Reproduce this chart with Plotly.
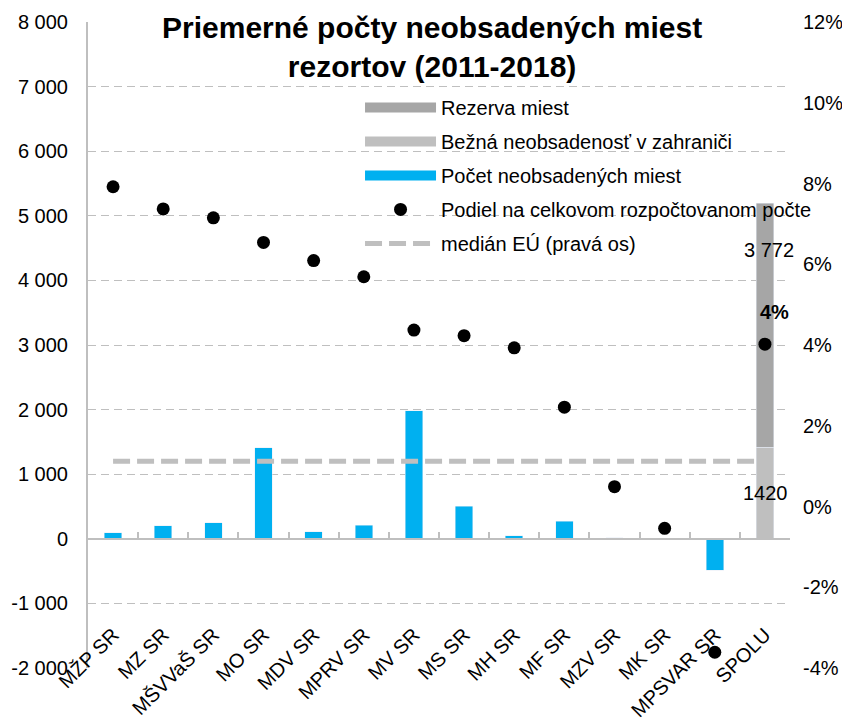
import plotly.graph_objects as go

# ---------------- data ----------------
categories = ["MŽP SR", "MZ SR", "MŠVVaŠ SR", "MO SR", "MDV SR", "MPRV SR", "MV SR",
              "MS SR", "MH SR", "MF SR", "MZV SR", "MK SR", "MPSVAR SR", "SPOLU"]
pocet_neobsadenych = [90, 205, 248, 1412, 108, 206, 1981, 505, 51, 272, 20, 10, -486, None]
podiel_pct = [7.92, 7.37, 7.15, 6.54, 6.09, 5.69, 4.37, 4.23, 3.93, 2.46, 0.49, -0.54, -3.61, 4.02]
median_eu_pct = [1.12] * len(categories)
spolu_category = ["SPOLU"]
bezna_neobsadenost = [1420]
rezerva_miest = [3772]
podiel_spolu_label = "4%"

left_tick_vals = [-2000, -1000, 0, 1000, 2000, 3000, 4000, 5000, 6000, 7000, 8000]
left_tick_text = ["-2 000", "-1 000", "0", "1 000", "2 000", "3 000", "4 000", "5 000",
                  "6 000", "7 000", "8 000"]
right_tick_vals = [-4, -2, 0, 2, 4, 6, 8, 10, 12]
right_tick_text = ["-4%", "-2%", "0%", "2%", "4%", "6%", "8%", "10%", "12%"]

legend_names = ["Rezerva miest", "Bežná neobsadenosť v zahraniči", "Počet neobsadených miest",
                "Podiel na celkovom rozpočtovanom počte", "medián EÚ (pravá os)"]
title_text = "Priemerné počty neobsadených miest<br>rezortov (2011-2018)"

# ---------------- style ----------------
FONT = "Liberation Sans Narrow, Arial Narrow, Liberation Sans, Arial, sans-serif"
BLUE = "#00B0F0"
DARK_GRAY = "#A6A6A6"
LIGHT_GRAY = "#BFBFBF"
GRID = "#BFBFBF"

fig = go.Figure()

# legend-only swatches (wide rectangles like the original)
for rank, (name, col) in enumerate(zip(legend_names[:3], [DARK_GRAY, LIGHT_GRAY, BLUE]), start=1):
    fig.add_trace(go.Scatter(x=[None], y=[None], mode="lines", name=name,
                             line=dict(color=col, width=13), legendrank=rank,
                             legendgroup=name, xaxis="x", yaxis="y", hoverinfo="skip"))

# blue bars (left axis)
fig.add_trace(go.Bar(x=categories, y=pocet_neobsadenych, marker_color=BLUE,
                     showlegend=False, xaxis="x", yaxis="y"))

# median line (right axis), drawn above blue bars
fig.add_trace(go.Scatter(x=categories, y=median_eu_pct, mode="lines", name=legend_names[4],
                         line=dict(color=LIGHT_GRAY, width=5, dash="17px,7px"),
                         legendrank=5, legendgroup=legend_names[4], xaxis="x", yaxis="y2"))

# stacked gray bars for SPOLU (left scale, drawn above median line)
fig.add_trace(go.Bar(x=spolu_category, y=bezna_neobsadenost, marker_color=LIGHT_GRAY,
                     showlegend=False, xaxis="x", yaxis="y3"))
fig.add_trace(go.Bar(x=spolu_category, y=rezerva_miest, marker_color=DARK_GRAY,
                     showlegend=False, xaxis="x", yaxis="y3"))

# dots (right scale) on top
fig.add_trace(go.Scatter(x=categories, y=podiel_pct, mode="markers", name=legend_names[3],
                         marker=dict(color="black", size=13), legendrank=4,
                         legendgroup=legend_names[3], xaxis="x2", yaxis="y4"))

n = len(categories)
cat_range = [-0.5, n - 0.5]
tick_font = dict(family=FONT, size=20, color="black")

fig.update_layout(
    width=842, height=714,
    margin=dict(l=80, r=60, t=14, b=54, autoexpand=False),
    paper_bgcolor="white", plot_bgcolor="white",
    font=dict(family=FONT, size=20, color="black"),
    barmode="stack", bargap=0.65,
    showlegend=True,
    legend=dict(x=0.3875, xref="paper", xanchor="left", y=0.898, yanchor="top",
                bgcolor="rgba(0,0,0,0)", font=dict(family=FONT, size=20, color="black"),
                itemwidth=71, traceorder="grouped", tracegroupgap=5, itemclick=False),
    xaxis=dict(type="category", categoryorder="array", categoryarray=categories,
               range=cat_range, anchor="free", position=0.077, automargin=False,
               showline=False, ticks="", showgrid=False, zeroline=False,
               tickangle=-45, tickfont=tick_font),
    xaxis2=dict(type="category", categoryorder="array", categoryarray=categories,
                range=cat_range, overlaying="x", anchor="free", position=0.2, automargin=False,
                showline=True, linecolor=GRID, linewidth=2,
                ticks="inside", tickson="boundaries", ticklen=6, tickwidth=2, tickcolor=GRID,
                showticklabels=False, showgrid=False, zeroline=False),
    yaxis=dict(range=[-2000, 8000], side="left", tickvals=left_tick_vals, ticktext=left_tick_text,
               showgrid=True, gridcolor=GRID, gridwidth=1, griddash="8px,5px", automargin=False,
               zeroline=False, showline=True, linecolor=GRID, linewidth=2, ticks="",
               ticklabelstandoff=14, tickfont=tick_font),
    yaxis2=dict(range=[-4, 12], side="right", overlaying="y", anchor="x", automargin=False,
                tickvals=right_tick_vals, ticktext=right_tick_text,
                showgrid=False, zeroline=False, showline=False, ticks="",
                ticklabelstandoff=12, tickfont=tick_font),
    yaxis3=dict(overlaying="y", matches="y", visible=False, showgrid=False, zeroline=False),
    yaxis4=dict(overlaying="y", matches="y2", visible=False, showgrid=False, zeroline=False),
)

# title as an annotation (two bold lines over the top of the plot)
fig.add_annotation(x=0.49, y=1.02, xref="paper", yref="paper", xanchor="center", yanchor="top",
                   text=f"<b>{title_text}</b>", showarrow=False,
                   font=dict(family=FONT, size=30, color="black"))

total_spolu = bezna_neobsadenost[0] + rezerva_miest[0]
fig.add_annotation(x=spolu_category[0], y=total_spolu, xref="x", yref="y",
                   text=f"{rezerva_miest[0]:,}".replace(",", " "), showarrow=False,
                   yanchor="middle", yshift=-47, xshift=4,
                   font=dict(family=FONT, size=20, color="black"))
fig.add_annotation(x=spolu_category[0], y=bezna_neobsadenost[0] / 2, xref="x", yref="y",
                   text=str(bezna_neobsadenost[0]), showarrow=False,
                   yanchor="middle", xshift=1,
                   font=dict(family=FONT, size=20, color="black"))
fig.add_annotation(x=spolu_category[0], y=podiel_pct[-1], xref="x", yref="y2",
                   text=f"<b>{podiel_spolu_label}</b>", showarrow=True, arrowhead=0,
                   arrowwidth=1, arrowcolor=DARK_GRAY, ax=10, ay=-32, standoff=7,
                   font=dict(family=FONT, size=20, color="black"))

fig.write_html("out.html")
